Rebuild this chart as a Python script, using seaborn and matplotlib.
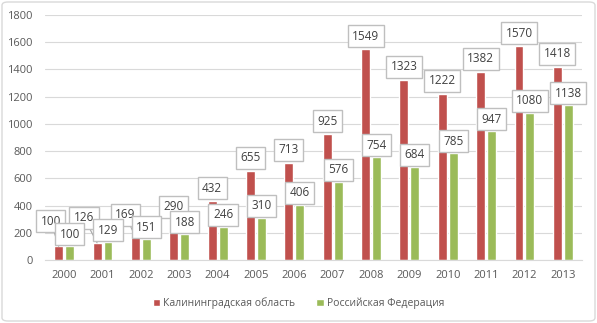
import matplotlib
matplotlib.use("Agg")
import matplotlib.pyplot as plt
import seaborn as sns
import pandas as pd
from matplotlib.patches import FancyBboxPatch

years = ["2000", "2001", "2002", "2003", "2004", "2005", "2006",
         "2007", "2008", "2009", "2010", "2011", "2012", "2013"]
kaliningrad = [100, 126, 169, 290, 432, 655, 713, 925, 1549, 1323, 1222, 1382, 1570, 1418]
russia = [100, 129, 151, 188, 246, 310, 406, 576, 754, 684, 785, 947, 1080, 1138]
series_names = ["Калининградская область", "Российская Федерация"]
colors = ["#C0504D", "#9BBB59"]

# label offsets in pixels (dx, dy) relative to bar top
red_offsets = [(-8, 25), (-13, 25), (-10, 22), (0, 14)] + [(0, 13)] * 10
green_offsets = [(0, 12)] * 14

df = pd.DataFrame({
    "year": years * 2,
    "value": kaliningrad + russia,
    "series": [series_names[0]] * len(years) + [series_names[1]] * len(years),
})

sns.set_theme(style="white")
plt.rcParams["font.family"] = ["Open Sans", "DejaVu Sans"]

fig = plt.figure(figsize=(5.97, 3.23), dpi=100)
W, H = 597, 323
ax = fig.add_axes([45 / W, (H - 260) / H, (582 - 45) / W, (260 - 15) / H])

sns.barplot(data=df, x="year", y="value", hue="series", palette=colors,
            width=0.57, gap=0.18, saturation=1, ax=ax, legend=True)

ax.set_ylim(0, 1800)
ax.set_xlim(-0.5, 13.5)
ax.set_yticks(range(0, 1801, 200))
ax.yaxis.grid(True, color="#D9D9D9", lw=0.8)
ax.set_axisbelow(True)
for s in ["top", "right", "left"]:
    ax.spines[s].set_visible(False)
ax.spines["bottom"].set_color("#D9D9D9")
ax.spines["bottom"].set_linewidth(0.8)
ax.tick_params(axis="both", length=0, labelsize=8, labelcolor="#595959")
ax.tick_params(axis="x", pad=7)
ax.tick_params(axis="y", pad=9)
ax.set_xlabel("")
ax.set_ylabel("")

bbox = dict(boxstyle="square,pad=0.38", fc="white", ec="#BFBFBF", lw=1.0)
for cont, offs in zip(ax.containers, [red_offsets, green_offsets]):
    for bar, (dx, dy) in zip(cont, offs):
        xc = bar.get_x() + bar.get_width() / 2
        val = bar.get_height()
        kw = {}
        if dy > 16:
            kw["arrowprops"] = dict(arrowstyle="-", color="#A6A6A6", lw=0.8,
                                    shrinkA=0, shrinkB=0)
        ax.annotate(f"{val:.0f}", xy=(xc, val), xytext=(dx, dy),
                    textcoords="offset pixels", ha="center", va="center",
                    fontsize=8.5, color="#404040", bbox=bbox, zorder=5, **kw)

leg = ax.legend(loc="center", bbox_to_anchor=(0.5, (H - 303) / H),
                bbox_transform=fig.transFigure, ncol=2, frameon=False,
                fontsize=7.5, handlelength=0.7, handleheight=0.7,
                handletextpad=0.3, columnspacing=2.0)
for t in leg.get_texts():
    t.set_color("#595959")

border = FancyBboxPatch((2 / W, 2 / H), 1 - 4 / W, 1 - 4 / H,
                        boxstyle="round,pad=0,rounding_size=0.01",
                        transform=fig.transFigure, fc="none", ec="#D9D9D9", lw=1.0)
fig.patches.append(border)

fig.savefig("out.png", dpi=100)
